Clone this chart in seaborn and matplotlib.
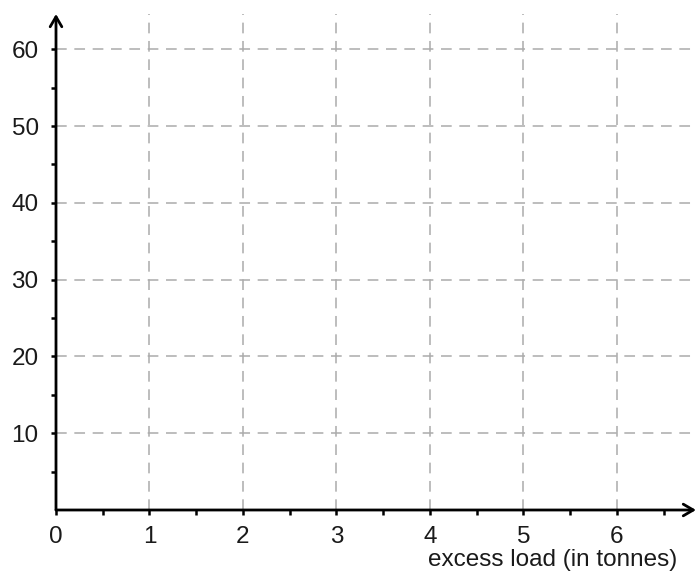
import matplotlib
matplotlib.use("Agg")
import matplotlib.pyplot as plt
import seaborn as sns
import numpy as np

# Datos del gráfico (ejes vacíos con cuadrícula)
x_ticks = [0, 1, 2, 3, 4, 5, 6]
x_minor = [0.5, 1.5, 2.5, 3.5, 4.5, 5.5, 6.5]
y_ticks = [10, 20, 30, 40, 50, 60]
y_minor = [5, 15, 25, 35, 45, 55]
x_max = 6.845
y_max = 64.6
x_label = "excess load (in tonnes)"

sns.set_theme(style="white")
plt.rcParams['font.family'] = ['Liberation Sans', 'DejaVu Sans']

fig = plt.figure(figsize=(6.96, 5.75), dpi=100)
ax = fig.add_axes([56 / 696, 65 / 575, 640 / 696, 496 / 575])
ax.set_xlim(0, x_max)
ax.set_ylim(0, y_max)

for s in ax.spines.values():
    s.set_visible(False)

# cuadrícula discontinua
for xv in x_ticks[1:]:
    ax.axvline(xv, color='#ababab', lw=1.1, ls=(0, (7, 5)), zorder=1)
for yv in y_ticks:
    ax.axhline(yv, color='#ababab', lw=1.1, ls=(0, (7, 5)), zorder=1)

ax.set_xticks(x_ticks)
ax.set_xticks(x_minor, minor=True)
ax.set_yticks(y_ticks)
ax.set_yticks(y_minor, minor=True)
ax.tick_params(axis='both', which='both', direction='out', length=3.5, width=1.8,
               color='black', labelsize=17.5, labelcolor='#1a1a1a',
               bottom=True, left=True)
ax.tick_params(axis='x', which='major', pad=8)
ax.tick_params(axis='y', which='major', pad=9)

# ejes con flechas
arrow = dict(arrowstyle='->,head_length=0.6,head_width=0.35', lw=2, color='black',
             shrinkA=0, shrinkB=0)
ax.annotate('', xy=(1, 0), xytext=(0, 0), xycoords='axes fraction', arrowprops=arrow,
            annotation_clip=False)
ax.annotate('', xy=(0, 1), xytext=(0, 0), xycoords='axes fraction', arrowprops=arrow,
            annotation_clip=False)

fig.text(677 / 696, 1 - 560 / 575, x_label, ha='right', va='center', fontsize=17.5,
         color='#1a1a1a')

fig.savefig("out.png", dpi=100)
